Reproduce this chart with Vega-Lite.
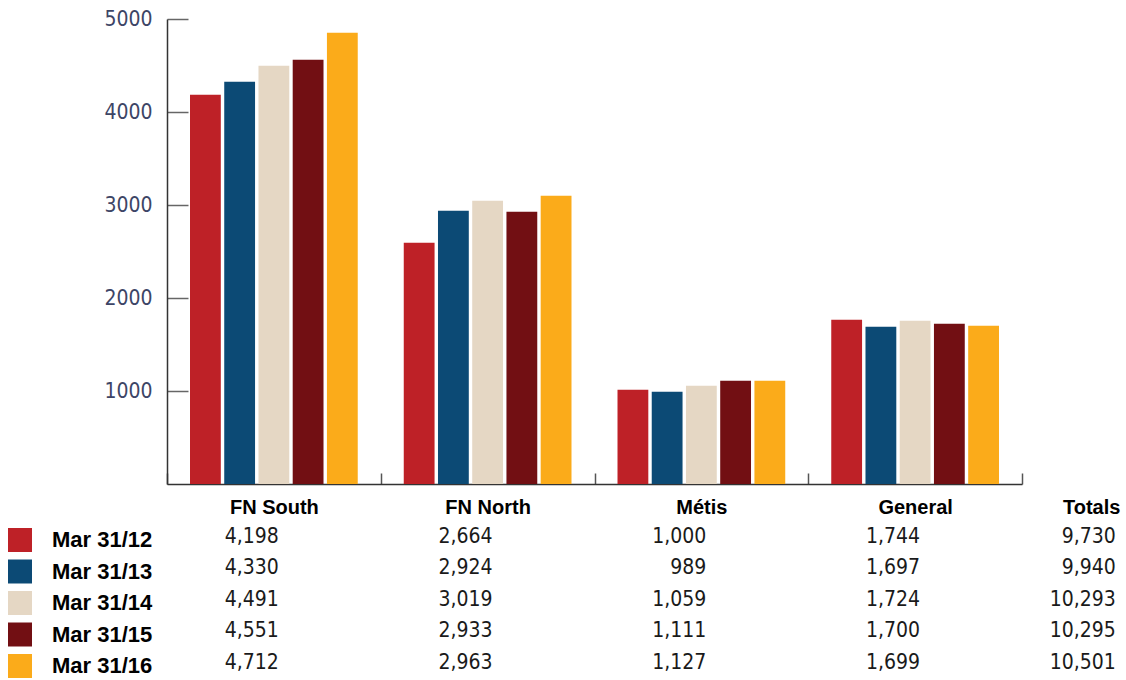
{
  "$schema": "https://vega.github.io/schema/vega-lite/v6.json",
  "background": "white",
  "padding": {"left": 8, "top": 8, "right": 0, "bottom": 0},
  "config": {"view": {"stroke": null}, "font": "Liberation Sans"},
  "datasets": {
    "bars": [
      {"cat": "FN South", "series": "Mar 31/12", "bar": 4186},
      {"cat": "FN South", "series": "Mar 31/13", "bar": 4326},
      {"cat": "FN South", "series": "Mar 31/14", "bar": 4498},
      {"cat": "FN South", "series": "Mar 31/15", "bar": 4562},
      {"cat": "FN South", "series": "Mar 31/16", "bar": 4853},
      {"cat": "FN North", "series": "Mar 31/12", "bar": 2595},
      {"cat": "FN North", "series": "Mar 31/13", "bar": 2939},
      {"cat": "FN North", "series": "Mar 31/14", "bar": 3046},
      {"cat": "FN North", "series": "Mar 31/15", "bar": 2928},
      {"cat": "FN North", "series": "Mar 31/16", "bar": 3100},
      {"cat": "Métis", "series": "Mar 31/12", "bar": 1014},
      {"cat": "Métis", "series": "Mar 31/13", "bar": 992},
      {"cat": "Métis", "series": "Mar 31/14", "bar": 1057},
      {"cat": "Métis", "series": "Mar 31/15", "bar": 1111},
      {"cat": "Métis", "series": "Mar 31/16", "bar": 1111},
      {"cat": "General", "series": "Mar 31/12", "bar": 1767},
      {"cat": "General", "series": "Mar 31/13", "bar": 1691},
      {"cat": "General", "series": "Mar 31/14", "bar": 1756},
      {"cat": "General", "series": "Mar 31/15", "bar": 1724},
      {"cat": "General", "series": "Mar 31/16", "bar": 1702}
    ],
    "table": [
      {"col": "FN South", "series": "Mar 31/12", "value": 4198},
      {"col": "FN South", "series": "Mar 31/13", "value": 4330},
      {"col": "FN South", "series": "Mar 31/14", "value": 4491},
      {"col": "FN South", "series": "Mar 31/15", "value": 4551},
      {"col": "FN South", "series": "Mar 31/16", "value": 4712},
      {"col": "FN North", "series": "Mar 31/12", "value": 2664},
      {"col": "FN North", "series": "Mar 31/13", "value": 2924},
      {"col": "FN North", "series": "Mar 31/14", "value": 3019},
      {"col": "FN North", "series": "Mar 31/15", "value": 2933},
      {"col": "FN North", "series": "Mar 31/16", "value": 2963},
      {"col": "Métis", "series": "Mar 31/12", "value": 1000},
      {"col": "Métis", "series": "Mar 31/13", "value": 989},
      {"col": "Métis", "series": "Mar 31/14", "value": 1059},
      {"col": "Métis", "series": "Mar 31/15", "value": 1111},
      {"col": "Métis", "series": "Mar 31/16", "value": 1127},
      {"col": "General", "series": "Mar 31/12", "value": 1744},
      {"col": "General", "series": "Mar 31/13", "value": 1697},
      {"col": "General", "series": "Mar 31/14", "value": 1724},
      {"col": "General", "series": "Mar 31/15", "value": 1700},
      {"col": "General", "series": "Mar 31/16", "value": 1699},
      {"col": "Totals", "series": "Mar 31/12", "value": 9730},
      {"col": "Totals", "series": "Mar 31/13", "value": 9940},
      {"col": "Totals", "series": "Mar 31/14", "value": 10293},
      {"col": "Totals", "series": "Mar 31/15", "value": 10295},
      {"col": "Totals", "series": "Mar 31/16", "value": 10501}
    ]
  },
  "spacing": 12,
  "resolve": {"legend": {"color": "independent"}},
  "vconcat": [
    {
      "width": 855,
      "height": 465,
      "data": {"name": "bars"},
      "mark": {"type": "bar"},
      "encoding": {
        "x": {
          "field": "cat", "type": "nominal",
          "sort": ["FN South", "FN North", "Métis", "General"],
          "scale": {"paddingInner": 0, "paddingOuter": 0},
          "axis": {"title": null, "labels": false, "ticks": true, "tickBand": "extent", "tickSize": -11,
                   "tickColor": "#555555", "tickWidth": 1.5, "domainColor": "#333333", "domainWidth": 1.5, "grid": false}
        },
        "xOffset": {
          "field": "series", "type": "nominal",
          "sort": ["Mar 31/12", "Mar 31/13", "Mar 31/14", "Mar 31/15", "Mar 31/16"],
          "scale": {"paddingInner": 0.1, "paddingOuter": 0.672}
        },
        "y": {
          "field": "bar", "type": "quantitative",
          "scale": {"domain": [0, 5000], "nice": false},
          "axis": {"title": null, "values": [1000, 2000, 3000, 4000, 5000], "grid": false, "format": "d",
                   "domainColor": "#333333", "domainWidth": 1.5, "tickColor": "#666666", "tickWidth": 1.5,
                   "tickSize": -21, "labelFont": "Liberation Sans Narrow, DejaVu Sans Condensed, Roboto, sans-serif",
                   "labelFontSize": 21, "labelColor": "#3d4566", "labelPadding": 36, "labelFlush": false}
        },
        "color": {
          "field": "series", "type": "nominal",
          "scale": {"domain": ["Mar 31/12", "Mar 31/13", "Mar 31/14", "Mar 31/15", "Mar 31/16"],
                    "range": ["#BE2127", "#0C4A75", "#E5D7C4", "#720F13", "#FBAB1A"]},
          "legend": null
        }
      }
    },
    {
      "width": 855,
      "height": 157.5,
      "data": {"name": "table"},
      "encoding": {
        "x": {"field": "col", "type": "nominal",
              "sort": ["FN South", "FN North", "Métis", "General", "Totals"],
              "scale": {"domain": ["FN South", "FN North", "Métis", "General", "Totals"],
                        "range": [0, 1068.75], "paddingInner": 0, "paddingOuter": 0},
              "axis": {"orient": "top", "title": null, "domain": false, "ticks": false, "labelAngle": 0,
                       "labelAlign": {"condition": {"test": "datum.value === 'Totals'", "value": "right"}, "value": "center"},
                       "labelOffset": {"condition": {"test": "datum.value === 'Totals'", "value": -9}, "value": 0},
                       "labelFont": "Liberation Sans", "labelFontWeight": "bold", "labelFontSize": 20,
                       "labelColor": "#000000", "labelPadding": 11}},
        "y": {"field": "series", "type": "nominal",
              "sort": ["Mar 31/12", "Mar 31/13", "Mar 31/14", "Mar 31/15", "Mar 31/16"],
              "scale": {"paddingInner": 0, "paddingOuter": 0}, "axis": null}
      },
      "layer": [
        {
          "mark": {"type": "square", "opacity": 0},
          "encoding": {
            "color": {
              "field": "series", "type": "nominal",
              "scale": {"domain": ["Mar 31/12", "Mar 31/13", "Mar 31/14", "Mar 31/15", "Mar 31/16"],
                        "range": ["#BE2127", "#0C4A75", "#E5D7C4", "#720F13", "#FBAB1A"]},
              "legend": {"orient": "left", "title": null, "symbolType": "square", "symbolSize": 576,
                         "symbolStrokeWidth": 0, "symbolOpacity": 1, "labelFont": "Liberation Sans",
                         "labelFontWeight": "bold", "labelFontSize": 22, "labelColor": "#000000",
                         "labelOffset": 20, "rowPadding": 7.5, "offset": 14, "padding": 0, "labelLimit": 300}
            }
          }
        },
        {
          "transform": [{"filter": "datum.col !== 'Totals'"}],
          "mark": {"type": "text", "align": "right", "baseline": "middle",
                   "font": "Liberation Sans Narrow, DejaVu Sans Condensed, Roboto, sans-serif",
                   "fontSize": 21, "color": "#1a1a1a", "dy": -7, "dx": 5},
          "encoding": {
            "text": {"field": "value", "type": "quantitative", "format": ","}
          }
        },
        {
          "transform": [{"filter": "datum.col === 'Totals'"}],
          "mark": {"type": "text", "align": "right", "baseline": "middle",
                   "font": "Liberation Sans Narrow, DejaVu Sans Condensed, Roboto, sans-serif",
                   "fontSize": 21, "color": "#1a1a1a", "dy": -7, "dx": -13},
          "encoding": {
            "text": {"field": "value", "type": "quantitative", "format": ","}
          }
        }
      ]
    }
  ]
}
